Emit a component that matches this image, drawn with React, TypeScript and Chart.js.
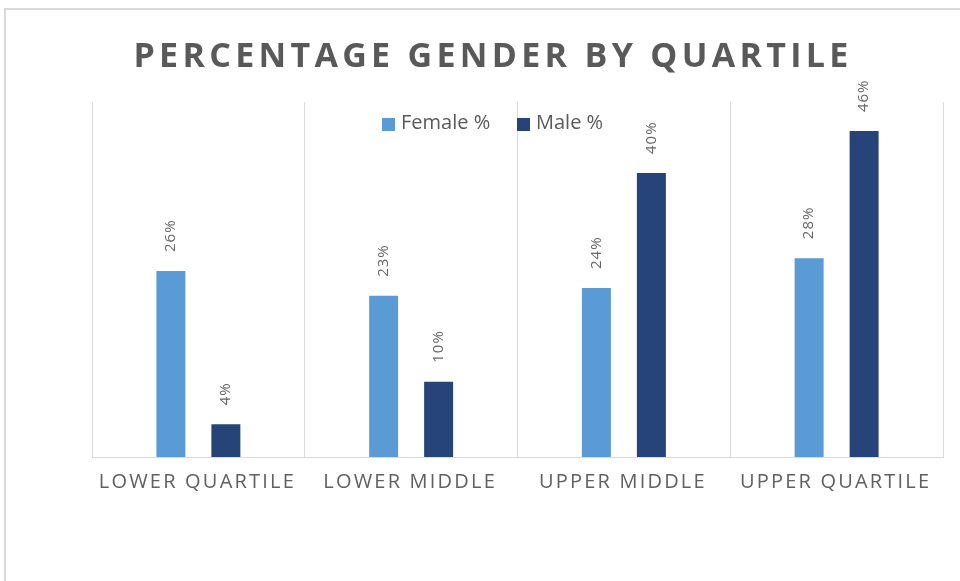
import React, { useEffect, useRef } from "react";
import { Chart, registerables } from "chart.js";

Chart.register(...registerables);

const categories = ["LOWER QUARTILE", "LOWER MIDDLE", "UPPER MIDDLE", "UPPER QUARTILE"];
const femaleValues = [26.2, 22.7, 23.8, 28.0];
const maleValues = [4.6, 10.6, 40.0, 45.9];
const femaleLabels = ["26%", "23%", "24%", "28%"];
const maleLabels = ["4%", "10%", "40%", "46%"];
const seriesNames = ["Female %", "Male %"];
const seriesColors = ["#5b9bd5", "#264478"];
const titleText = "PERCENTAGE GENDER BY QUARTILE";

const TEXT = "#595959";
const FONT = "'Open Sans', 'Segoe UI', sans-serif";

const decorPlugin = {
  id: "decor",
  afterDraw(chart: any) {
    const ctx = chart.ctx as CanvasRenderingContext2D;
    const xScale = chart.scales.x;
    ctx.save();
    // frame
    ctx.strokeStyle = "#d9d9d9";
    ctx.lineWidth = 2;
    ctx.strokeRect(5, 9, 1000, 1000);

    // title
    ctx.fillStyle = TEXT;
    ctx.font = `700 34px ${FONT}`;
    (ctx as any).letterSpacing = "4.3px";
    ctx.textAlign = "center";
    ctx.textBaseline = "alphabetic";
    ctx.fillText(titleText, 493, 67);

    // legend
    (ctx as any).letterSpacing = "0px";
    ctx.font = `20px ${FONT}`;
    ctx.textAlign = "left";
    ctx.textBaseline = "middle";
    const legendX = [382, 517];
    seriesNames.forEach((name, i) => {
      ctx.fillStyle = seriesColors[i];
      ctx.fillRect(legendX[i], 118, 13, 13);
      ctx.fillStyle = TEXT;
      ctx.fillText(name, legendX[i] + 19, 123);
    });

    // category labels
    ctx.fillStyle = "#606060";
    ctx.font = `20px ${FONT}`;
    (ctx as any).letterSpacing = "2.2px";
    ctx.textAlign = "center";
    ctx.textBaseline = "middle";
    categories.forEach((c, i) => {
      ctx.fillText(c, xScale.getPixelForValue(i) - 1, 482);
    });

    // data labels
    ctx.fillStyle = "#666666";
    (ctx as any).letterSpacing = "1px";
    ctx.font = `15px ${FONT}`;
    ctx.textAlign = "left";
    ctx.textBaseline = "middle";
    const labelSets = [femaleLabels, maleLabels];
    chart.data.datasets.forEach((_: any, di: number) => {
      const meta = chart.getDatasetMeta(di);
      meta.data.forEach((el: any, i: number) => {
        ctx.save();
        ctx.translate(el.x, el.y - 19);
        ctx.rotate(-Math.PI / 2);
        ctx.fillText(labelSets[di][i], 0, 0);
        ctx.restore();
      });
    });
    ctx.restore();
  },
};

export default function App() {
  const ref = useRef<HTMLCanvasElement>(null);
  useEffect(() => {
    document.body.style.margin = "0";
    const chart = new Chart(ref.current!, {
      type: "bar",
      data: {
        labels: categories,
        datasets: [
          { label: seriesNames[0], data: femaleValues, backgroundColor: seriesColors[0] },
          { label: seriesNames[1], data: maleValues, backgroundColor: seriesColors[1] },
        ],
      },
      options: {
        responsive: false,
        animation: false,
        layout: { padding: { left: 92, right: 17, top: 102, bottom: 124 } },
        datasets: { bar: { categoryPercentage: 0.517, barPercentage: 0.527 } } as any,
        plugins: { legend: { display: false }, title: { display: false }, tooltip: { enabled: false } },
        scales: {
          x: {
            grid: { color: "#d9d9d9", lineWidth: 1, drawTicks: false, offset: true },
            border: { display: true, color: "#d9d9d9" },
            ticks: { display: false },
          },
          y: { display: false, min: 0, max: 50 },
        },
      },
      plugins: [decorPlugin],
    });
    return () => chart.destroy();
  }, []);
  return (
    <div style={{ position: "absolute", left: 0, top: 0, width: 960, height: 581, background: "#fff" }}>
      <canvas ref={ref} width={960} height={581} />
    </div>
  );
}
